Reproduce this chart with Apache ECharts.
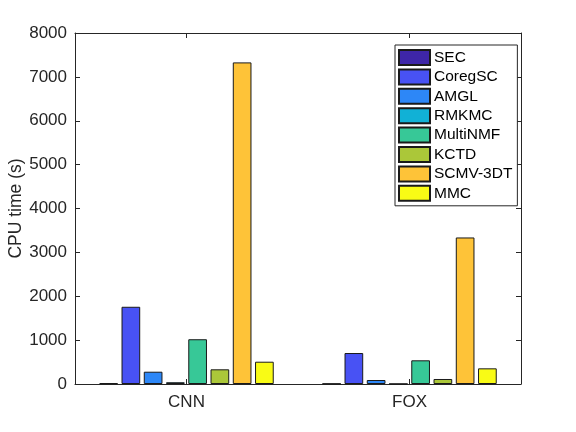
<!DOCTYPE html>
<html>
<head>
<meta charset="utf-8">
<script src="https://cdn.jsdelivr.net/npm/echarts@6/dist/echarts.min.js"></script>
<style>html,body{margin:0;padding:0;background:#fff;}#c{width:576px;height:432px;}</style>
</head>
<body>
<div id="c"></div>
<script>
const datasets = ['CNN', 'FOX'];
const methods = ['SEC', 'CoregSC', 'AMGL', 'RMKMC', 'MultiNMF', 'KCTD', 'SCMV-3DT', 'MMC'];
const cnnTimes = [20, 1760, 280, 40, 1020, 335, 7330, 508];
const foxTimes = [8, 706, 91, 4, 540, 114, 3340, 357];
const yTicks = [0, 1000, 2000, 3000, 4000, 5000, 6000, 7000, 8000];
const colors = ['#3e26a8', '#4852f4', '#2d87f7', '#11b1d6', '#37c897', '#abc739', '#fec338', '#f9fb15'];

const axisColor = '#262626';
const font = 'Liberation Sans, Arial, Helvetica, sans-serif';

const series = methods.map((m, i) => ({
  name: m,
  type: 'bar',
  xAxisIndex: 0,
  yAxisIndex: 0,
  data: [cnnTimes[i], foxTimes[i]],
  barWidth: 18.7,
  barGap: '19%',
  itemStyle: { color: colors[i], borderColor: '#1a1a1a', borderWidth: 1 },
  emphasis: { disabled: true },
  animation: false
}));

const yCommon = {
  type: 'value',
  min: yTicks[0],
  max: yTicks[yTicks.length - 1],
  interval: yTicks[1] - yTicks[0],
  splitLine: { show: false },
  axisLine: { show: true, lineStyle: { color: axisColor, width: 1 } },
  axisTick: { show: true, inside: true, length: 5, lineStyle: { color: axisColor } }
};

const option = {
  animation: false,
  textStyle: { fontFamily: font },
  grid: { left: 75, top: 33, right: 55, bottom: 48, containLabel: false, outerBoundsMode: 'none' },
  legend: {
    orient: 'vertical',
    left: 395,
    top: 45,
    data: methods,
    itemWidth: 31,
    itemHeight: 15,
    itemGap: 2.4,
    icon: 'rect',
    padding: [4, 5, 4, 3],
    borderColor: axisColor,
    borderWidth: 1,
    backgroundColor: '#fff',
    textStyle: { fontSize: 15.5, color: '#000', fontFamily: font, padding: [0, 0, 0, -1] },
    selectedMode: false
  },
  xAxis: [
    {
      type: 'category',
      data: datasets,
      position: 'bottom',
      axisLine: { show: true, onZero: false, lineStyle: { color: axisColor, width: 1 } },
      axisTick: { show: true, inside: true, alignWithLabel: true, length: 5, lineStyle: { color: axisColor } },
      axisLabel: { fontSize: 17, color: axisColor, margin: 10, fontFamily: font }
    },
    {
      type: 'category',
      data: datasets,
      position: 'top',
      axisLine: { show: true, onZero: false, lineStyle: { color: axisColor, width: 1 } },
      axisTick: { show: true, inside: true, alignWithLabel: true, length: 5, lineStyle: { color: axisColor } },
      axisLabel: { show: false }
    }
  ],
  yAxis: [
    Object.assign({}, yCommon, {
      position: 'left',
      name: 'CPU time (s)',
      nameLocation: 'middle',
      nameGap: 50,
      nameMoveOverlap: false,
      nameTextStyle: { fontSize: 17.5, color: axisColor, fontFamily: font },
      axisLabel: { fontSize: 17, color: axisColor, margin: 8, fontFamily: font, formatter: v => String(v) }
    }),
    Object.assign({}, yCommon, {
      position: 'right',
      axisLabel: { show: false }
    })
  ],
  series: series
};

const chart = echarts.init(document.getElementById('c'), null, { renderer: 'canvas' });
chart.setOption(option);
</script>
</body>
</html>
